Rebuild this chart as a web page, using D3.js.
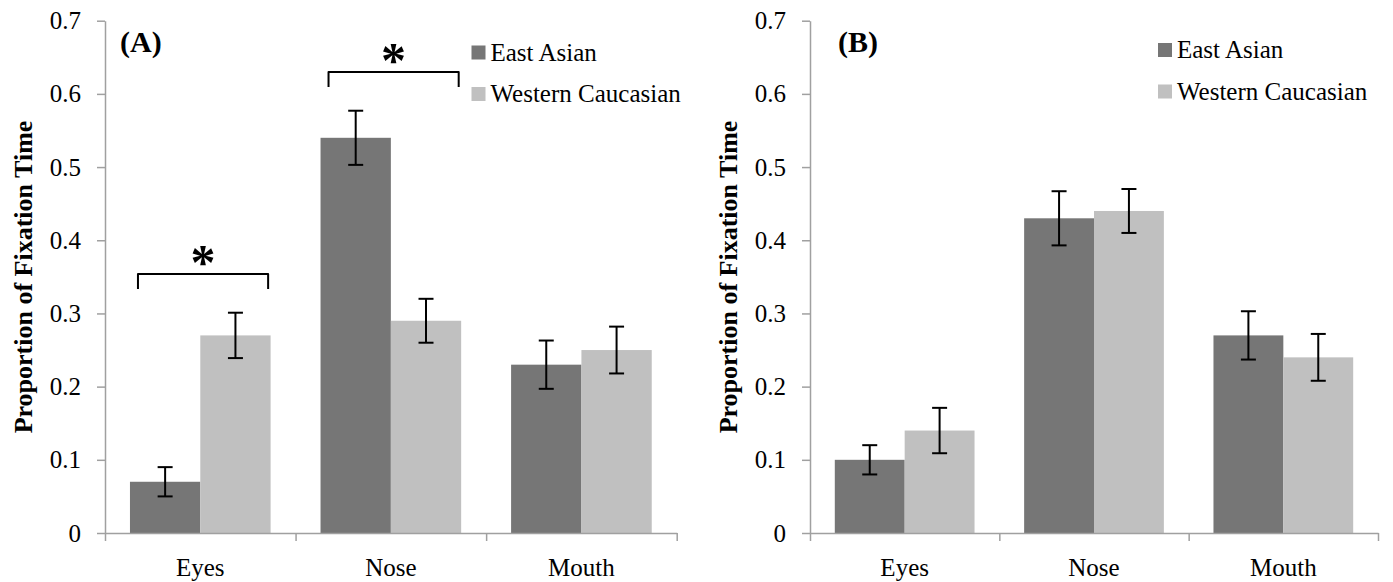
<!DOCTYPE html>
<html>
<head>
<meta charset="utf-8">
<script src="https://cdn.jsdelivr.net/npm/d3@7"></script>
<style>
  body { margin: 0; background: #fff; }
  text { font-family: "Liberation Serif", Tinos, "Times New Roman", Times, "DejaVu Serif", serif; }
</style>
</head>
<body>
<svg id="chart" width="1393" height="582"></svg>
<script>
// data
var categories = ['Eyes', 'Nose', 'Mouth'];
var groups = ['East Asian', 'Western Caucasian'];
var yTicks = [0, 0.1, 0.2, 0.3, 0.4, 0.5, 0.6, 0.7];

// panel A
var aEastAsian = [0.07, 0.54, 0.23];
var aEastAsianErr = [0.02, 0.037, 0.033];
var aWestern = [0.27, 0.29, 0.25];
var aWesternErr = [0.031, 0.03, 0.032];
var aSignificant = [
  { category: 'Eyes', level: 0.354 },
  { category: 'Nose', level: 0.63 }
];

// panel B
var bEastAsian = [0.10, 0.43, 0.27];
var bEastAsianErr = [0.02, 0.037, 0.033];
var bWestern = [0.14, 0.44, 0.24];
var bWesternErr = [0.031, 0.03, 0.032];
var bSignificant = [];

var colors = { 'East Asian': '#767676', 'Western Caucasian': '#c0c0c0' };
var axisColor = '#a0a0a0';
var serif = '"Liberation Serif", Tinos, "Times New Roman", Times, "DejaVu Serif", serif';

var svg = d3.select('#chart');

function drawPanel(cfg) {
  var g = svg.append('g').attr('font-family', serif);

  var yScale = d3.scaleLinear().domain([0, 0.7]).range([533, 20.7]);
  var x0 = d3.scaleBand().domain(categories).range([cfg.left, cfg.right]);
  var bw = x0.bandwidth();
  var pad = bw * 0.131;
  var x1 = d3.scaleBand().domain(groups).range([pad, bw - pad]);

  // rows: one per category / group
  var rows = [];
  categories.forEach(function(c, i) {
    rows.push({ cat: c, grp: 'East Asian', value: cfg.ea[i], err: cfg.eaErr[i] });
    rows.push({ cat: c, grp: 'Western Caucasian', value: cfg.wc[i], err: cfg.wcErr[i] });
  });

  // bars
  g.selectAll('.bar')
    .data(rows)
    .enter()
    .append('rect')
    .attr('class', 'bar')
    .attr('x', function(d) { return x0(d.cat) + x1(d.grp); })
    .attr('y', function(d) { return yScale(d.value); })
    .attr('width', x1.bandwidth())
    .attr('height', function(d) { return yScale(0) - yScale(d.value); })
    .attr('fill', function(d) { return colors[d.grp]; });

  // error bars
  var eb = g.selectAll('.err')
    .data(rows)
    .enter()
    .append('g')
    .attr('class', 'err')
    .attr('stroke', '#000')
    .attr('stroke-width', 2);
  var cx = function(d) { return x0(d.cat) + x1(d.grp) + x1.bandwidth() / 2; };
  eb.append('line')
    .attr('x1', cx).attr('x2', cx)
    .attr('y1', function(d) { return yScale(d.value + d.err); })
    .attr('y2', function(d) { return yScale(d.value - d.err); });
  eb.append('line')
    .attr('x1', function(d) { return cx(d) - 7.5; })
    .attr('x2', function(d) { return cx(d) + 7.5; })
    .attr('y1', function(d) { return yScale(d.value + d.err); })
    .attr('y2', function(d) { return yScale(d.value + d.err); });
  eb.append('line')
    .attr('x1', function(d) { return cx(d) - 7.5; })
    .attr('x2', function(d) { return cx(d) + 7.5; })
    .attr('y1', function(d) { return yScale(d.value - d.err); })
    .attr('y2', function(d) { return yScale(d.value - d.err); });

  // y axis
  var yAxis = d3.axisLeft(yScale)
    .tickValues(yTicks)
    .tickSize(8)
    .tickSizeOuter(0)
    .tickPadding(16)
    .tickFormat(function(d) { return d === 0 ? '0' : d3.format('.1f')(d); });
  var ya = g.append('g')
    .attr('transform', 'translate(' + cfg.left + ',0)')
    .call(yAxis);

  // x axis: ticks at category boundaries, labels at centres
  var xb = d3.scaleLinear().domain([0, categories.length]).range([cfg.left, cfg.right]);
  var xa = g.append('g')
    .attr('transform', 'translate(0,533)')
    .call(d3.axisBottom(xb).tickValues([0, 1, 2, 3]).tickFormat('').tickSize(8).tickSizeOuter(0));
  var xl = g.append('g')
    .attr('transform', 'translate(0,533)')
    .call(d3.axisBottom(x0).tickSize(0).tickPadding(25));
  xl.select('.domain').remove();

  [ya, xa, xl].forEach(function(a) {
    a.attr('font-family', serif).attr('font-size', 25);
    a.selectAll('path, line').attr('stroke', axisColor).attr('stroke-width', 1.5);
    a.selectAll('text').attr('fill', '#000');
  });

  // y axis title
  g.append('text')
    .attr('transform', 'translate(' + (cfg.left - 73) + ',277) rotate(-90)')
    .attr('text-anchor', 'middle')
    .attr('font-size', 26)
    .attr('font-weight', 'bold')
    .text('Proportion of Fixation Time');

  // panel label
  g.append('text')
    .attr('x', cfg.left + cfg.labelDx)
    .attr('y', 52)
    .attr('font-size', 30)
    .attr('font-weight', 'bold')
    .text(cfg.label);

  // legend
  var leg = g.selectAll('.legend')
    .data(groups)
    .enter()
    .append('g')
    .attr('class', 'legend')
    .attr('transform', function(d, i) { return 'translate(' + cfg.legendX + ',' + (cfg.legendY + i * 41.5) + ')'; });
  leg.append('rect')
    .attr('width', 14)
    .attr('height', 14)
    .attr('fill', function(d) { return colors[d]; });
  leg.append('text')
    .attr('x', 19)
    .attr('y', 15)
    .attr('font-size', 25)
    .text(function(d) { return d; });

  // significance brackets
  var br = g.selectAll('.bracket')
    .data(cfg.sig)
    .enter()
    .append('g')
    .attr('class', 'bracket');
  br.append('path')
    .attr('fill', 'none')
    .attr('stroke', '#000')
    .attr('stroke-width', 2)
    .attr('stroke-linejoin', 'round')
    .attr('d', function(d) {
      var xs = x0(d.category) + bw * 0.173;
      var xe = x0(d.category) + bw * 0.856;
      var y = yScale(d.level);
      return 'M' + xs + ',' + (y + 15) + 'V' + y + 'H' + xe + 'V' + (y + 15);
    });
  br.append('text')
    .attr('x', function(d) { return x0(d.category) + bw * 0.5145; })
    .attr('y', function(d) { return yScale(d.level) + 5; })
    .attr('text-anchor', 'middle')
    .attr('font-size', 50)
    .attr('font-weight', 'bold')
    .text('*');
}

drawPanel({
  left: 105, right: 676.7, label: '(A)', labelDx: 15,
  ea: aEastAsian, eaErr: aEastAsianErr, wc: aWestern, wcErr: aWesternErr,
  sig: aSignificant, legendX: 471.5, legendY: 45.5
});

drawPanel({
  left: 810, right: 1378, label: '(B)', labelDx: 28,
  ea: bEastAsian, eaErr: bEastAsianErr, wc: bWestern, wcErr: bWesternErr,
  sig: bSignificant, legendX: 1158, legendY: 43
});
</script>
</body>
</html>
